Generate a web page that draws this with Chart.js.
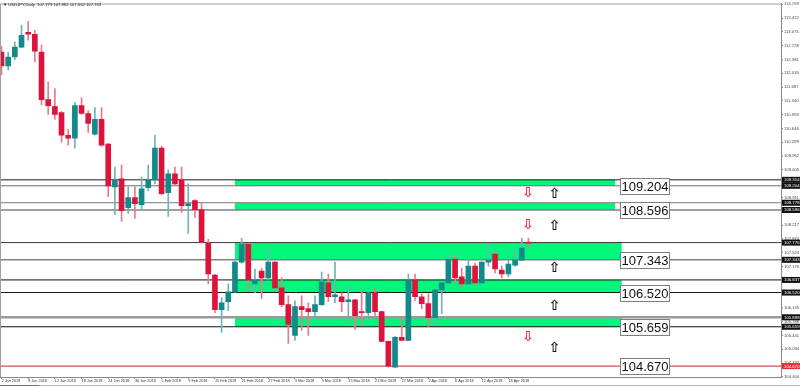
<!DOCTYPE html>
<html><head><meta charset="utf-8">
<script src="https://cdn.jsdelivr.net/npm/chart.js@4.4.0/dist/chart.umd.min.js"></script>
<style>html,body{margin:0;padding:0;background:#fff;overflow:hidden}canvas{display:block}</style>
</head><body>
<canvas id="c" width="800" height="387"></canvas>
<script>
// ---------- DATA ----------
const dates = ["2 Jan","3 Jan","4 Jan","5 Jan","8 Jan","9 Jan","10 Jan","11 Jan","12 Jan","15 Jan","16 Jan","17 Jan","18 Jan","19 Jan","22 Jan","23 Jan","24 Jan","25 Jan","26 Jan","29 Jan","30 Jan","31 Jan","1 Feb","2 Feb","5 Feb","6 Feb","7 Feb","8 Feb","9 Feb","12 Feb","13 Feb","14 Feb","15 Feb","16 Feb","19 Feb","20 Feb","21 Feb","22 Feb","23 Feb","26 Feb","27 Feb","28 Feb","1 Mar","2 Mar","5 Mar","6 Mar","7 Mar","8 Mar","9 Mar","12 Mar","13 Mar","14 Mar","15 Mar","16 Mar","19 Mar","20 Mar","21 Mar","22 Mar","23 Mar","26 Mar","27 Mar","28 Mar","29 Mar","30 Mar","2 Apr","3 Apr","4 Apr","5 Apr","6 Apr","9 Apr","10 Apr","11 Apr","12 Apr","13 Apr","16 Apr","17 Apr","18 Apr","19 Apr","20 Apr","23 Apr"];
const opens = [112.567,112.219,112.443,112.692,113.066,113.016,112.567,111.372,111.197,111.048,110.475,110.400,111.222,111.023,110.500,110.873,110.251,109.179,109.379,108.656,108.905,108.731,109.154,109.354,110.151,109.030,109.503,109.354,108.706,108.830,108.606,107.759,106.962,106.090,106.289,106.538,107.286,107.734,106.738,107.062,106.887,107.286,106.638,106.215,105.442,106.165,106.115,106.040,106.215,106.763,106.414,106.414,106.289,106.339,106.040,106.015,106.514,106.040,105.293,104.645,105.392,105.318,106.837,106.414,106.240,105.891,106.588,106.763,107.361,106.912,106.738,107.186,106.763,107.286,107.485,107.087,106.987,107.211,107.336,107.779];
const highs = [112.717,112.567,112.817,113.240,113.340,113.115,112.742,111.820,111.646,111.070,110.624,111.297,111.421,111.098,111.172,111.172,110.270,109.678,109.727,109.179,109.179,109.428,109.727,110.475,110.201,109.603,109.678,109.678,109.254,108.855,108.756,107.859,106.980,106.389,106.738,107.311,107.884,107.750,107.111,107.136,107.635,107.300,106.887,106.439,106.314,106.439,106.264,106.439,107.037,106.987,107.286,106.514,106.663,106.350,106.588,106.538,106.638,106.050,105.300,105.417,105.891,106.987,106.987,106.489,106.489,106.613,106.763,107.460,107.460,107.136,107.361,107.261,107.300,107.759,107.535,107.186,107.336,107.610,107.884,107.882];
const lows = [111.994,112.119,112.368,112.680,112.866,112.318,111.247,110.998,110.873,110.300,110.226,110.151,110.998,110.549,110.475,110.201,108.930,108.482,108.307,108.507,108.382,108.581,109.080,109.254,108.980,108.432,109.229,108.532,108.008,108.407,107.770,106.738,106.015,105.517,106.065,106.520,107.261,106.563,106.514,106.364,106.837,106.588,106.165,105.243,105.318,105.567,105.442,105.891,106.190,106.289,106.264,106.040,105.791,105.592,105.691,105.941,105.916,105.280,104.645,104.640,105.318,105.310,106.314,106.115,105.667,105.691,105.990,106.738,106.763,106.638,106.730,106.730,106.713,107.186,107.012,106.887,106.912,107.186,107.330,107.652];
const closes = [112.219,112.443,112.692,112.991,113.016,112.592,111.372,111.222,110.998,110.475,110.400,111.222,111.023,110.774,110.873,110.226,109.204,109.354,108.581,108.905,108.756,109.129,109.354,110.151,109.005,109.503,109.254,108.706,108.756,108.606,107.784,106.987,106.090,106.264,106.538,107.286,107.734,106.837,106.837,106.887,107.286,106.638,106.215,105.716,106.165,106.090,106.040,106.215,106.788,106.414,106.464,106.289,106.339,105.941,106.015,106.514,106.040,105.293,104.670,105.392,105.318,106.837,106.414,106.240,105.891,106.588,106.763,107.361,106.887,106.738,107.186,106.763,107.286,107.336,107.111,106.987,107.236,107.336,107.635,107.763];

const xTickIdx = [0,4,8,12,16,20,24,28,32,36,40,44,48,52,56,60,64,68,72,76];
const xTickLabels = ["2 Jan 2018","8 Jan 2018","12 Jan 2018","18 Jan 2018","24 Jan 2018","30 Jan 2018","5 Feb 2018","9 Feb 2018","15 Feb 2018","21 Feb 2018","27 Feb 2018","5 Mar 2018","9 Mar 2018","15 Mar 2018","21 Mar 2018","27 Mar 2018","2 Apr 2018","6 Apr 2018","12 Apr 2018","18 Apr 2018"];
const yTickVals = [104.400,104.747,105.094,105.441,105.788,106.135,106.482,106.829,107.176,107.523,107.870,108.217,108.564,108.911,109.258,109.605,109.952,110.299,110.646,110.993,111.340,111.687,112.034,112.381,112.728,113.075,113.422,113.769];

// horizontal price levels
const levels = [109.354,109.204,108.778,108.596,107.776,107.343,106.837,106.520,105.898,105.659,104.670];
// supply/demand zones (top, bottom), starting at a bar index and extending into the future
const zoneTops    = [109.354,108.778,107.776,106.837,105.898];
const zoneBottoms = [109.204,108.596,107.343,106.520,105.659];
const zoneStart = 35;
const zoneEnds = [92,92,93,93,93];
// boxed level labels
const labelLevels = [109.204,108.596,107.343,106.520,105.659,104.670];
// arrow marks: bar index, price, direction
const arrowIdx   = [78.9,82.9,78.9,82.9,82.9,82.9,78.9,82.9];
const arrowPrice = [109.010,109.000,108.200,108.190,107.140,106.170,105.400,105.120];
const arrowDir   = ["down","up","down","up","up","up","down","up"];

// ---------- STYLE ----------
const X_MIN = -0.225, X_MAX = 116.865;
const Y_MIN = 104.396, Y_MAX = 113.788;
const UP = '#128a8a', DN = '#dc143c', UPW = '#6fb3b3', DNW = '#e8798f';
const levelColors = ['#1a1a1a','#6b6b6b','#7a7a7a','#808080','#3a3a3a','#808080','#111111','#111111','#9a9a9a','#111111','#cc2020'];
const levelWidths = [1,1,1,1.5,1,1.5,1,1,2.5,1,1];
const ZONE = '#00f77c';
const isUp = closes.map((c,i)=>c>=opens[i]);

const datasets = [];
datasets.push({type:'bar', order:0, grouped:false, barThickness:5, minBarLength:1, borderWidth:0,
  data: dates.map((d,i)=>({x:i, y:[opens[i], closes[i]]})),
  backgroundColor: ctx => isUp[ctx.dataIndex] ? UP : DN});
datasets.push({type:'bar', order:1, grouped:false, barThickness:1, borderWidth:0,
  data: dates.map((d,i)=>({x:i, y:[lows[i], highs[i]]})),
  backgroundColor: ctx => isUp[ctx.dataIndex] ? UPW : DNW});
levels.forEach((v,k)=>{
  datasets.push({type:'line', order:2, data:[{x:X_MIN,y:v},{x:X_MAX,y:v}], borderColor:levelColors[k], borderWidth:levelWidths[k], pointRadius:0, fill:false});
});
zoneTops.forEach((t,k)=>{
  datasets.push({type:'line', order:3, data:[{x:zoneStart,y:t},{x:zoneEnds[k],y:t}], borderWidth:0, borderColor:'rgba(0,0,0,0)', pointRadius:0, fill:'+1', backgroundColor:ZONE});
  datasets.push({type:'line', order:3, data:[{x:zoneStart,y:zoneBottoms[k]},{x:zoneEnds[k],y:zoneBottoms[k]}], borderWidth:0, borderColor:'rgba(0,0,0,0)', pointRadius:0, fill:false});
});

const overlay = {
  id:'overlay',
  afterDraw(chart){
    const {ctx, chartArea:a, scales:{x,y}} = chart;
    ctx.save();
    // frame
    ctx.strokeStyle='#a0a0a0'; ctx.lineWidth=1;
    ctx.beginPath(); ctx.moveTo(a.left+0.5,a.bottom); ctx.lineTo(a.left+0.5,a.top+0.5); ctx.lineTo(a.right,a.top+0.5); ctx.stroke();
    // bottom tab strip
    ctx.strokeStyle='#b0b0b0'; ctx.beginPath(); ctx.moveTo(0,385.5); ctx.lineTo(800,385.5); ctx.stroke();
    ctx.strokeStyle='#707070'; ctx.beginPath(); ctx.moveTo(0,385.5); ctx.lineTo(39,385.5); ctx.stroke();
    // boxed labels
    ctx.font = '13px "Liberation Sans", Arial, sans-serif';
    ctx.textBaseline='middle'; ctx.textAlign='left';
    labelLevels.forEach(v=>{
      const py = Math.round(y.getPixelForValue(v));
      const px = Math.round(x.getPixelForValue(92.8));
      const t = v.toFixed(3);
      const w = Math.ceil(ctx.measureText(t).width)+2;
      ctx.fillStyle='#fff'; ctx.fillRect(px, py-8, w, 16);
      ctx.strokeStyle='#7f7f7f'; ctx.lineWidth=1; ctx.strokeRect(px+0.5, py-7.5, w, 16);
      ctx.fillStyle='#111'; ctx.fillText(t, px+1.5, py+1);
    });
    // arrows
    ctx.font = 'bold 14px "DejaVu Sans", sans-serif'; ctx.textAlign='center';
    arrowIdx.forEach((ix,k)=>{
      ctx.fillStyle = arrowDir[k]==='down' ? '#e0303a' : '#111';
      ctx.fillText(arrowDir[k]==='down' ? '\u21E9' : '\u21E7', x.getPixelForValue(ix), y.getPixelForValue(arrowPrice[k]));
    });
    // axis price boxes
    ctx.font = '4.3px "Liberation Sans", Arial, sans-serif'; ctx.textAlign='left';
    levels.forEach((v,k)=>{
      const py = y.getPixelForValue(v);
      ctx.fillStyle = k===levels.length-1 ? '#e03030' : '#111';
      ctx.fillRect(a.right+1, py-3, 800-a.right-1, 6);
      ctx.fillStyle='#fff'; ctx.fillText(v.toFixed(3), a.right+3, py+0.3);
    });
    // title
    ctx.fillStyle='#222'; ctx.font='4.2px "Liberation Sans", Arial, sans-serif';
    ctx.textBaseline='middle';
    ctx.fillText('\u25BC USDJPY,Daily  ' + [opens[79],highs[79],lows[79],closes[79]].map(v=>v.toFixed(3)).join(' '), 3, 4.5);
    ctx.restore();
  }
};

new Chart(document.getElementById('c'), {
  type:'bar',
  data:{datasets},
  options:{
    responsive:false, animation:false, devicePixelRatio:1, events:[],
    layout:{padding:0},
    plugins:{legend:{display:false}, tooltip:{enabled:false}},
    scales:{
      x:{type:'linear', min:X_MIN, max:X_MAX, offset:false, position:'bottom',
        afterFit: s=>{ s.height = 10; },
        afterBuildTicks: s=>{ s.ticks = xTickIdx.map(v=>({value:v})); },
        grid:{display:true, offset:false, drawOnChartArea:false, drawTicks:true, tickLength:2, color:'#888'},
        border:{display:true, color:'#8a8a8a'},
        ticks:{autoSkip:false, maxRotation:0, minRotation:0, align:'start', padding:0,
          font:{size:3.8, family:'"Liberation Sans", Arial, sans-serif'}, color:'#333',
          callback:(v,i)=>xTickLabels[i]}
      },
      y:{type:'linear', position:'right', min:Y_MIN, max:Y_MAX,
        afterFit: s=>{ s.width = 19; },
        afterBuildTicks: s=>{ s.ticks = yTickVals.map(v=>({value:v})); },
        grid:{display:true, drawOnChartArea:false, drawTicks:true, tickLength:2, color:'#888'},
        border:{display:true, color:'#8a8a8a'},
        ticks:{autoSkip:false, padding:1, font:{size:4.2, family:'"Liberation Sans", Arial, sans-serif'}, color:'#444',
          callback:v=>Number(v).toFixed(3)}
      }
    }
  },
  plugins:[overlay]
});
</script>
</body></html>
